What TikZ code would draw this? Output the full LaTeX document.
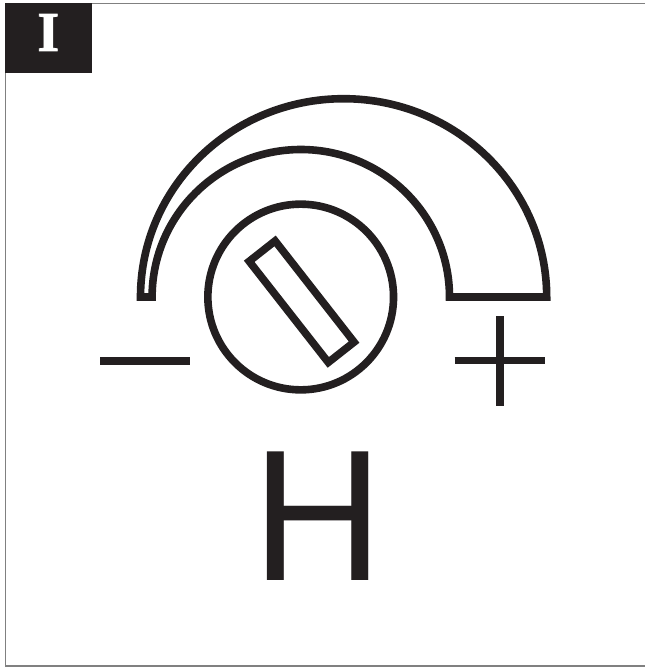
\documentclass[tikz,border=0pt]{standalone}
\usepackage{fontspec}
\setmainfont[FakeStretch=0.97]{Liberation Sans}
\newfontfamily\tagfont[BoldFeatures={FakeBold=1.5}]{Liberation Serif}
\usepackage{tikz}
\definecolor{inkblack}{HTML}{231F20}
\begin{document}
\begin{tikzpicture}[
  x=1pt, y=-1pt,
  edge/.style={draw=inkblack, line width=7.6pt},
  sign/.style={draw=inkblack, line width=7.6pt},
  frameline/.style={draw=black!50, line width=1.2pt},
  tag/.style={font=\fontsize{56}{56}\tagfont\bfseries, text=white, inner sep=0pt},
  letter/.style={font=\fontsize{187}{187}\selectfont, text=inkblack, inner sep=0pt}
]
  \useasboundingbox (0,0) rectangle (645,667);
  \fill[white] (0,0) rectangle (645,667);
  \draw[frameline] (646,3.5) -- (5.5,3.5) -- (5.5,666) -- (646,666);

  \fill[inkblack] (5,3) rectangle (92,73);
  \node[tag] (badge) at (48.3,32.5) {I};

  % scale band
  \draw[edge, miter limit=10] (140.5,297) arc[start angle=180, end angle=360, x radius=203.1, y radius=198.3]
    -- (449.5,297) arc[start angle=0, end angle=-180, x radius=148.7, y radius=147.5] -- cycle;

  % dial
  \node[circle, edge, minimum size=185.7pt, inner sep=0pt] (dial) at (300.7,297) {};
  \draw[edge] (275.1,240.9) -- (249.2,261.3) -- (328.3,362.4) -- (354.1,342.1) -- cycle;

  % signs
  \draw[sign] (100,361) -- (190,361);
  \draw[sign] (454.7,360.3) -- (544.7,360.3);
  \draw[sign] (500,316) -- (500,406);

  \node[letter] (mode) at (318.3,515.8) {H};
\end{tikzpicture}
\end{document}
